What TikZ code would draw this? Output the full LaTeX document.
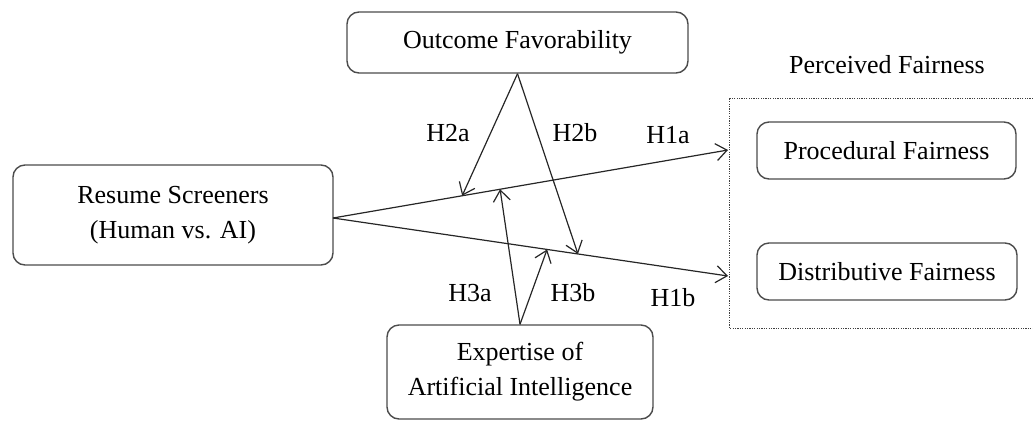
\documentclass[tikz,border=0pt]{standalone}
\usepackage{fontspec}
\setmainfont{Liberation Serif}
\usetikzlibrary{arrows.meta}
\tikzset{
  box/.style={draw=black!70,line width=1.4pt,rounded corners=12pt,align=center,inner sep=0pt},
  hlink/.style={draw=black!85,line width=1.2pt,-{Straight Barb[length=11pt,width=17pt,line width=1.2pt]}},
  hlabel/.style={inner sep=0pt}
}
\begin{document}
\begin{tikzpicture}[x=1pt,y=-1pt,font=\fontsize{26}{35}\selectfont]
\useasboundingbox (0,0) rectangle (1033,421);
% constructs
\node[box,minimum width=341pt,minimum height=61pt] (outcome) at (517.5,42.5) {Outcome Favorability};
\node[box,minimum width=320pt,minimum height=100pt] (resume) at (173,215) {Resume Screeners\\(Human vs. AI)};
\node[box,minimum width=266pt,minimum height=94pt] (expert) at (520,372) {Expertise of\\Artificial Intelligence};
\node[box,minimum width=259pt,minimum height=57pt] (proc) at (886.5,150.5) {Procedural Fairness};
\node[box,minimum width=260pt,minimum height=57pt] (dist) at (887,271.5) {Distributive Fairness};
\node[hlabel] (perc) at (887,65) {Perceived Fairness};
\draw[dash pattern=on 1.2pt off 1.2pt,line width=1pt,black!75] (1033,98) -- (729,98) -- (729,328) -- (1033,328);
\coordinate (fr1) at (728,150);
\coordinate (fr2) at (728,276);
% main effects
\draw[hlink] (333,218) coordinate (src) -- coordinate[pos=0.327] (m2a) coordinate[pos=0.423] (m3a) (fr1);
\draw[hlink] (src) -- coordinate[pos=0.62] (m2b) coordinate[pos=0.542] (m3b) (fr2);
% moderators
\draw[hlink] (outcome.south) -- (m2a);
\draw[hlink] (outcome.south) -- (m2b);
\draw[hlink] (expert.north) -- (m3a);
\draw[hlink] (expert.north) -- (m3b);
% labels
\node[hlabel] (h2a) at (448,133) {H2a};
\node[hlabel] (h2b) at (575,133) {H2b};
\node[hlabel] (h1a) at (668,135) {H1a};
\node[hlabel] (h3a) at (470,293) {H3a};
\node[hlabel] (h3b) at (573,293) {H3b};
\node[hlabel] (h1b) at (673,298) {H1b};
\end{tikzpicture}
\end{document}
